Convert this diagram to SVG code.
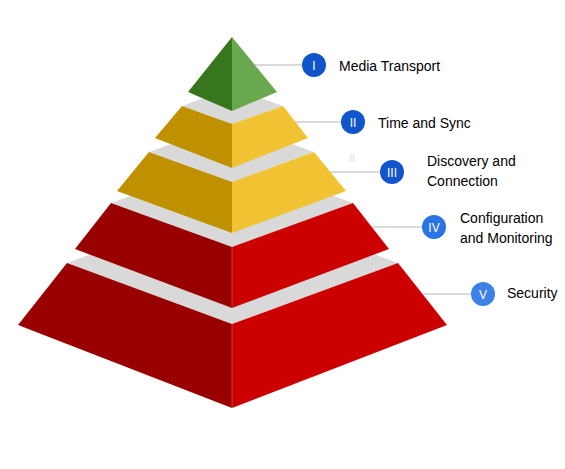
<svg xmlns="http://www.w3.org/2000/svg" width="565" height="469" viewBox="0 0 565 469">
<style>
.top{fill:#d9d9d9}
.gl{fill:#38761d}.gr{fill:#6aa84f}
.yl{fill:#bf9000}.yr{fill:#f1c232}
.rl{fill:#990000}.rr{fill:#cc0000}
.seam{stroke:#ffffff;stroke-opacity:0.3;stroke-width:0.8}
.conn{stroke:#cccccc;stroke-width:1.5;fill:none}
.badge{fill:#1155cc}
.badge2{fill:#2a74e6}
.num{font-family:"Liberation Sans",Arial,sans-serif;font-size:12px;fill:#ffffff;text-anchor:middle}
.lbl{font-family:"Liberation Sans",Arial,sans-serif;font-size:14px;fill:#000000}
.ghost{font-family:"Liberation Sans",Arial,sans-serif;font-size:10px;fill:#dddddd}
</style>
<g id="connectors">
<line class="conn" x1="255" y1="65" x2="314" y2="65"/>
<line class="conn" x1="295" y1="122" x2="353" y2="122"/>
<line class="conn" x1="330" y1="172" x2="392" y2="172"/>
<line class="conn" x1="372" y1="227" x2="434" y2="227"/>
<line class="conn" x1="423" y1="294" x2="483" y2="294"/>
</g>
<g id="level5">
<polygon class="top" points="67,263 232,202 398,263 232,324"/>
<polygon class="rl" points="67,263 232,324 232,408 18,325"/>
<polygon class="rr" points="232,324 398,263 447,325 232,408"/>
<line class="seam" x1="232" y1="324" x2="232" y2="408"/>
</g>
<g id="level4">
<polygon class="top" points="111,203 232,159 353,203 232,247"/>
<polygon class="rl" points="111,203 232,247 232,308 75,249"/>
<polygon class="rr" points="232,247 353,203 389,249 232,308"/>
<line class="seam" x1="232" y1="247" x2="232" y2="308"/>
</g>
<g id="level3">
<polygon class="top" points="149,152 232,122 314,152 232,182"/>
<polygon class="yl" points="149,152 232,182 232,233 117,191"/>
<polygon class="yr" points="232,182 314,152 346,191 232,233"/>
</g>
<g id="level2">
<polygon class="top" points="182,106 232,88 283,106 232,124"/>
<polygon class="yl" points="182,106 232,124 232,168 155,138"/>
<polygon class="yr" points="232,124 283,106 308,138 232,168"/>
</g>
<g id="level1">
<polygon class="gl" points="232,37 232,111 188,92"/>
<polygon class="gr" points="232,37 277,92 232,111"/>
</g>
<text class="ghost" x="352" y="162" text-anchor="middle">II</text>
<g id="badge1">
<circle class="badge" cx="314" cy="65" r="12"/>
<text class="num" x="314" y="69.5">I</text>
<text class="lbl" x="339" y="71">Media Transport</text>
</g>
<g id="badge2">
<circle class="badge" cx="353" cy="122" r="12"/>
<text class="num" x="353" y="126.5">II</text>
<text class="lbl" x="378" y="128">Time and Sync</text>
</g>
<g id="badge3">
<circle class="badge" cx="392" cy="172" r="12"/>
<text class="num" x="392" y="176.5">III</text>
<text class="lbl" x="427" y="166">Discovery and</text>
<text class="lbl" x="427" y="186">Connection</text>
</g>
<g id="badge4">
<circle class="badge2" cx="434" cy="227" r="12"/>
<text class="num" x="434" y="231.5">IV</text>
<text class="lbl" x="460" y="223">Configuration</text>
<text class="lbl" x="460" y="243">and Monitoring</text>
</g>
<g id="badge5">
<circle class="badge2" cx="483" cy="294" r="12" style="fill:#3c80e8"/>
<text class="num" x="483" y="298.5">V</text>
<text class="lbl" x="507" y="298">Security</text>
</g>
</svg>
